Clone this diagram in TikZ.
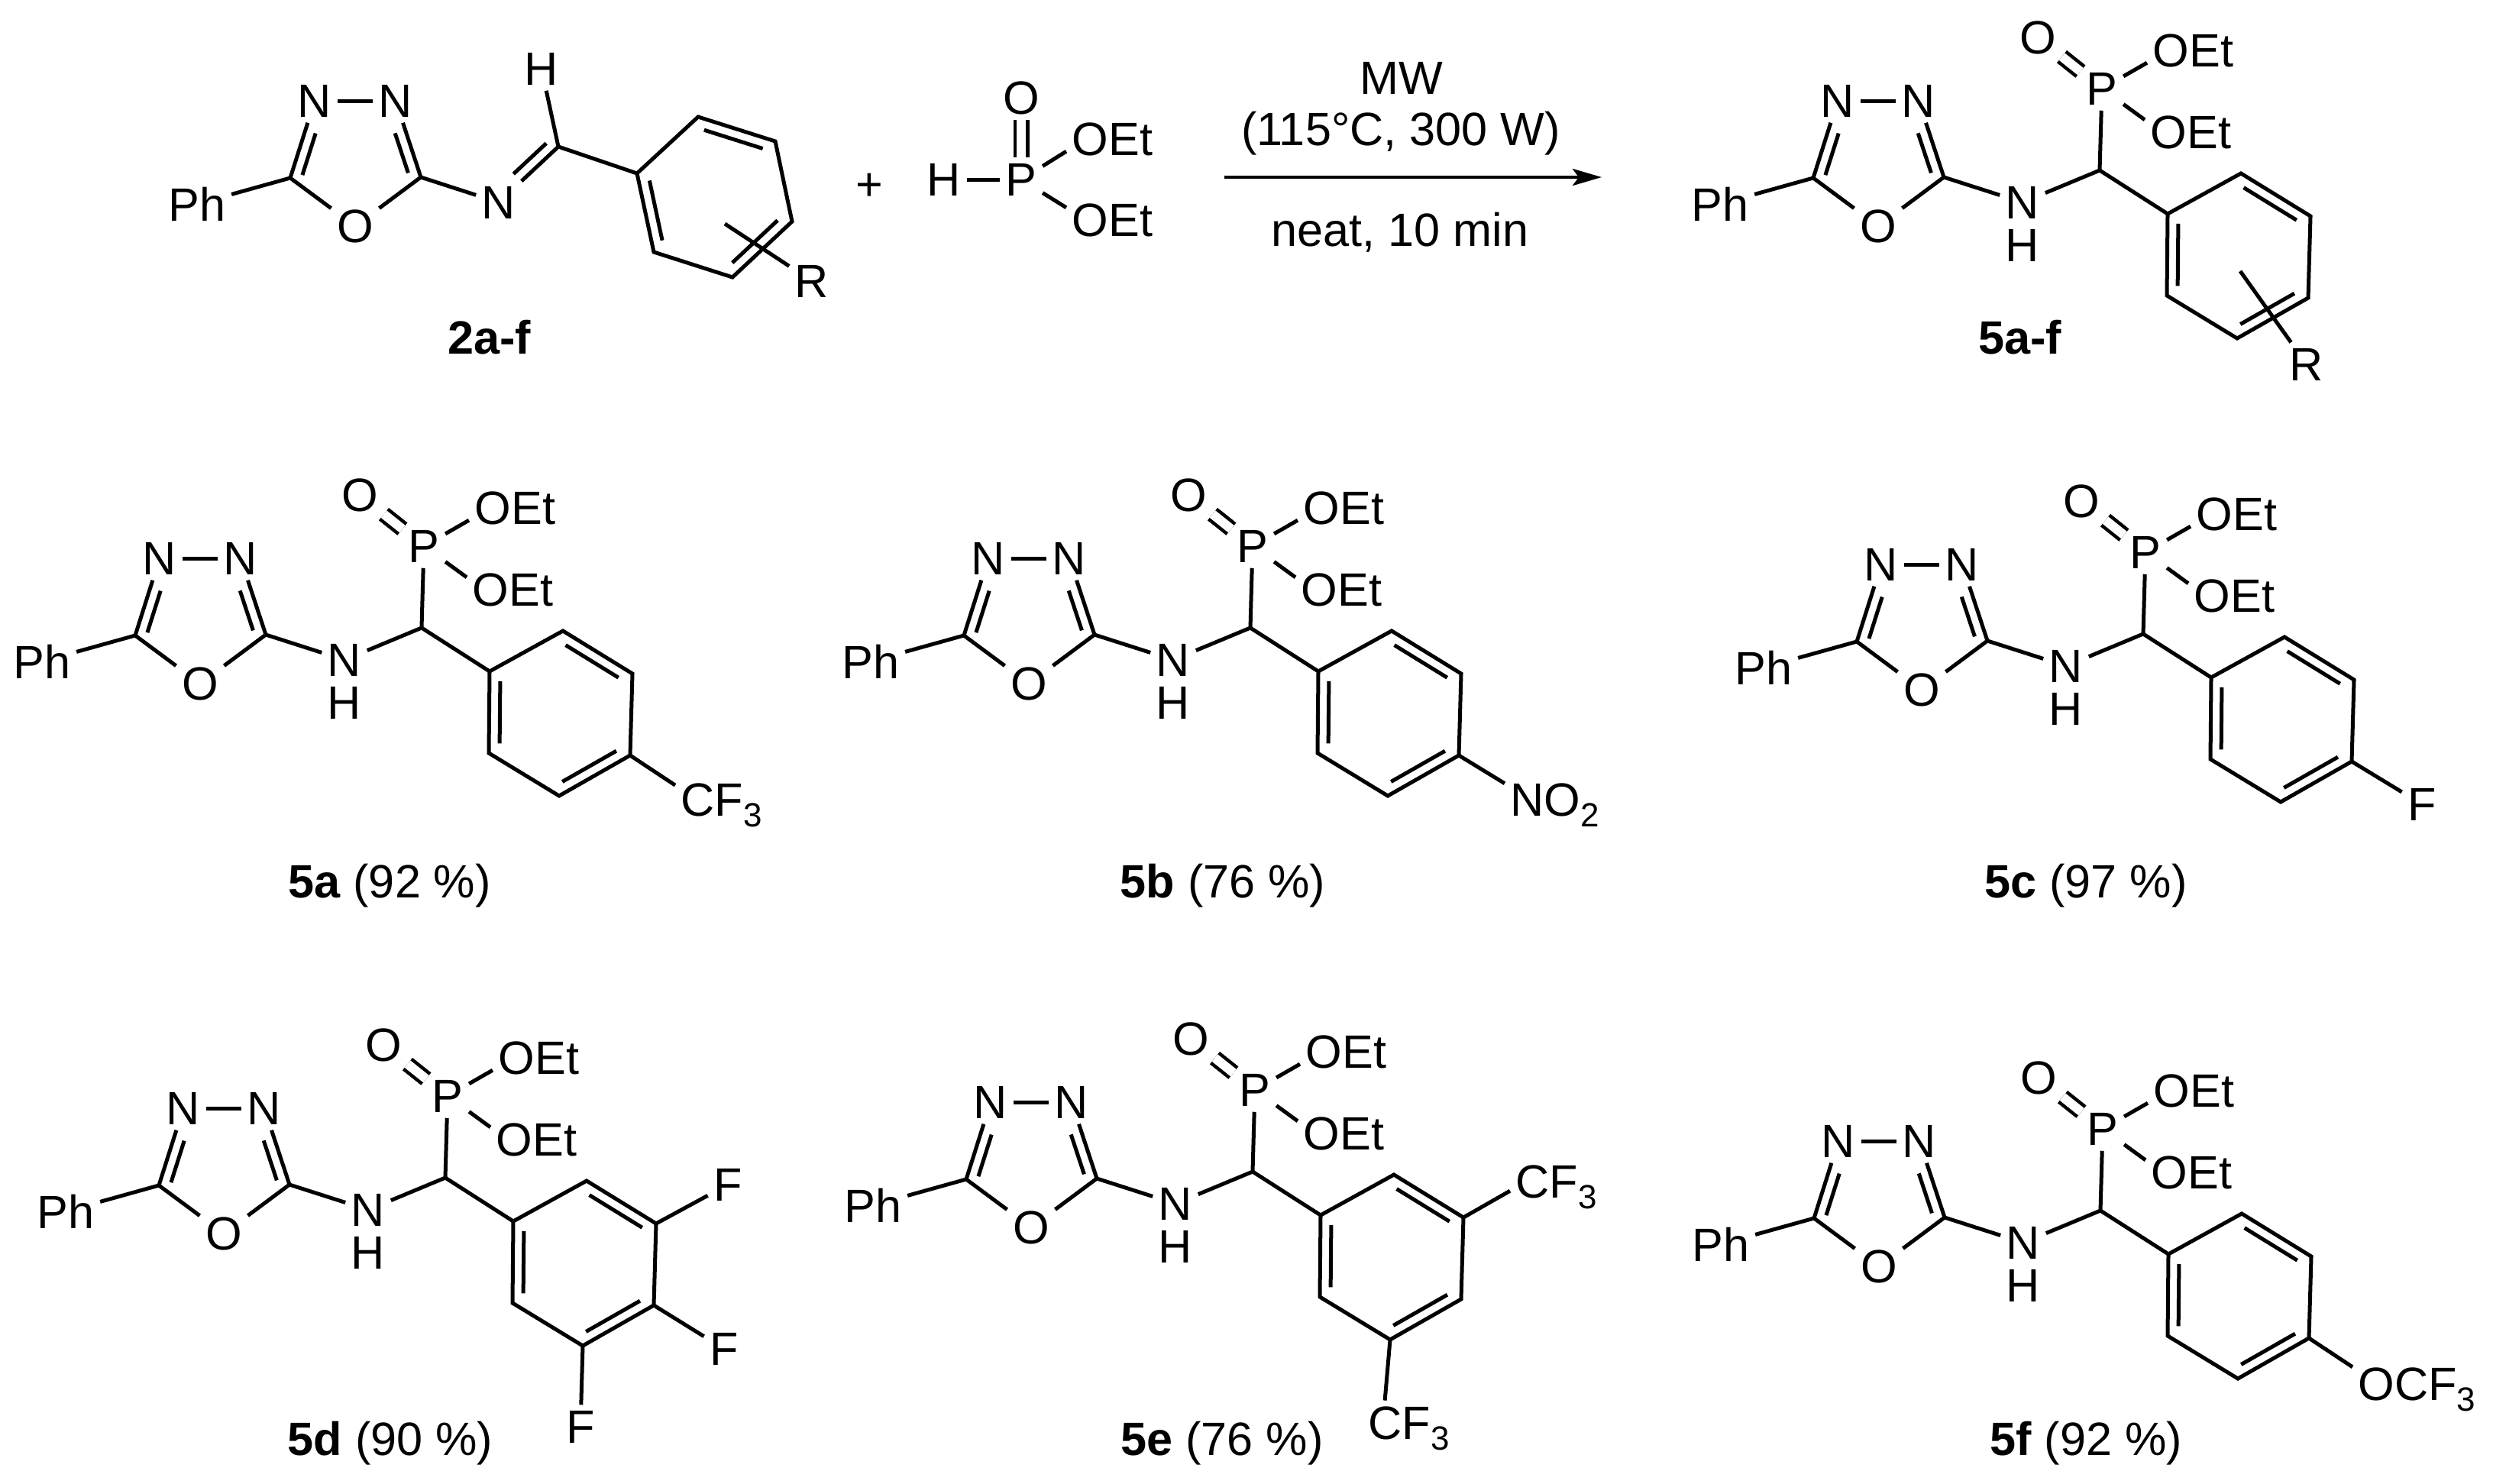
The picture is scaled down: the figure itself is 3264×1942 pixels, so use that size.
\documentclass[tikz,border=0pt]{standalone}
\usepackage{fontspec}
\setmainfont{Liberation Sans}
\usetikzlibrary{calc,arrows.meta}
\tikzset{
  bond/.style={line width=0.05cm},
  dblbond/.style={line width=0.045cm,double,double distance=0.12cm},
  atom/.style={inner sep=0.07cm},
  oet/.style={inner sep=0.07cm,anchor=west,xshift=-0.06cm},
  group/.style={inner sep=0.07cm,anchor=base west,xshift=-0.06cm},
  lab/.style={inner sep=0pt,anchor=base}
}
\newcommand{\subs}[1]{\raisebox{-4pt}{\fontsize{12.5}{14}\selectfont #1}}
\newcommand{\innerbond}[4]{\draw[bond] ($(#1)!#3!(#2)!0.14cm!-90:(#2)$) -- ($(#1)!#4!(#2)!0.14cm!-90:(#2)$);}
\newcommand{\oxadiazole}{
\node[atom] (ph) at (55,866) {Ph};
\coordinate (cp) at (177,832);
\coordinate (cv) at (348,831);
\node[atom] (na) at (209,731) {N};
\node[atom] (nb) at (315,731) {N};
\node[atom] (ox) at (262,895) {O};
\draw[bond] (ph) -- (cp) -- (na);
\draw[bond] (na) -- (nb);
\draw[bond] (nb) -- (cv) -- (ox);
\draw[bond] (ox) -- (cp);
\innerbond{cp}{na}{.08}{.62}
\innerbond{nb}{cv}{.38}{.9}
}
\newcommand{\phosphonate}{
\oxadiazole
\node[atom] (nh) at (451,864) {N};
\node[inner sep=0pt] (hn) at (451,920) {H};
\coordinate (ch) at (552,822);
\node[atom] (po) at (555,715) {P};
\node[atom] (oo) at (471,648) {O};
\node[oet] (oa) at (620,665) {OEt};
\node[oet] (ob) at (617,772) {OEt};
\coordinate (ci) at (641,879);
\coordinate (ct) at (737,826);
\coordinate (cm) at (828,882);
\coordinate (pa) at (825,989);
\coordinate (mb) at (732,1042);
\coordinate (ob2) at (640,986);
\draw[bond] (cv) -- (nh);
\draw[bond] (nh) -- (ch) -- (po);
\draw[dblbond] (po) -- (oo);
\draw[bond] (po) -- (oa.195);
\draw[bond] (po) -- (ob.165);
\draw[bond] (ch) -- (ci);
\draw[bond] (ci) -- (ct) -- (cm) -- (pa) -- (mb) -- (ob2) -- cycle;
\innerbond{ob2}{ci}{.12}{.88}
\innerbond{ct}{cm}{.12}{.88}
\innerbond{pa}{mb}{.12}{.88}
}
\begin{document}
\begin{tikzpicture}[x=0.01cm,y=-0.01cm,every node/.style={font=\fontsize{17.4}{20}\selectfont}]
\useasboundingbox (0,0) rectangle (3264,1942);
\begin{scope}[shift={(203,-599)},name prefix=im-]
\oxadiazole
\end{scope}
\node[atom] (imn) at (653,265) {N};
\node[atom] (imh) at (709,90) {H};
\coordinate (imc) at (731,192);
\coordinate (imi) at (834,227);
\coordinate (imt) at (914,153);
\coordinate (imm) at (1015,185);
\coordinate (imr) at (1037,290);
\coordinate (imb) at (959,363);
\coordinate (iml) at (856,330);
\coordinate (rsa) at (949,293);
\node[atom] (ra) at (1063,368) {R};
\draw[bond] (im-cv) -- (imn);
\draw[bond] (imn) -- (imc) -- (imh);
\draw[bond] (imc) -- (imi);
\draw[bond] (imi) -- (imt) -- (imm) -- (imr) -- (imb) -- (iml) -- cycle;
\innerbond{imc}{imn}{.08}{.63}
\innerbond{iml}{imi}{.12}{.88}
\innerbond{imt}{imm}{.12}{.88}
\innerbond{imr}{imb}{.12}{.88}
\draw[bond] (rsa) -- (ra);
\node[lab] (laba) at (641,463) {\textbf{2a-f}};
\node[atom] (plus) at (1138,245) {+};
\node[atom] (hp) at (1236,235) {H};
\node[atom] (pp) at (1337,235) {P};
\node[atom] (op) at (1337,128) {O};
\node[oet] (oc) at (1402,182) {OEt};
\node[oet] (od) at (1402,288) {OEt};
\draw[bond] (hp) -- (pp);
\draw[dblbond] (pp) -- (op);
\draw[bond] (pp) -- (oc.195);
\draw[bond] (pp) -- (od.165);
\coordinate (arra) at (1603,232);
\coordinate (arrb) at (2097,232);
\draw[-{Stealth[length=0.38cm,width=0.22cm,inset=0.08cm]},line width=0.045cm] (arra) -- (arrb);
\node[lab] (mw) at (1835,123) {MW};
\node[lab] (cond) at (1834,190) {(115°C, 300 W)};
\node[lab] (neat) at (1833,322) {neat, 10 min};
\begin{scope}[shift={(2197,-599)},name prefix=p-]
\phosphonate
\end{scope}
\coordinate (rsb) at (2933,355);
\node[atom] (rb) at (3020,477) {R};
\draw[bond] (rsb) -- (rb);
\node[lab] (labb) at (2645,463) {\textbf{5a-f}};
\begin{scope}[name prefix=a-]
\phosphonate
\end{scope}
\node[group] (cfa) at (890,1068) {CF\subs{3}};
\draw[bond] (a-pa) -- (cfa.157);
\node[lab] (labc) at (510,1175) {\textbf{5a} (92 \%)};
\begin{scope}[shift={(1085,0)},name prefix=b-]
\phosphonate
\end{scope}
\node[group] (no) at (1976,1068) {NO\subs{2}};
\draw[bond] (b-pa) -- (no.157);
\node[lab] (labd) at (1601,1175) {\textbf{5b} (76 \%)};
\begin{scope}[shift={(2254,8)},name prefix=c-]
\phosphonate
\end{scope}
\node[atom] (fa) at (3171,1053) {F};
\draw[bond] (c-pa) -- (fa);
\node[lab] (labe) at (2731,1175) {\textbf{5c} (97 \%)};
\begin{scope}[shift={(31,720)},name prefix=d-]
\phosphonate
\end{scope}
\node[atom] (fb) at (953,1551) {F};
\node[atom] (fc) at (948,1766) {F};
\node[atom] (fd) at (760,1868) {F};
\draw[bond] (d-cm) -- (fb);
\draw[bond] (d-pa) -- (fc);
\draw[bond] (d-mb) -- (fd);
\node[lab] (labf) at (511,1905) {\textbf{5d} (90 \%)};
\begin{scope}[shift={(1088,712)},name prefix=e-]
\phosphonate
\end{scope}
\node[group] (cfb) at (1983,1568) {CF\subs{3}};
\node[group] (cfc) at (1790,1884) {CF\subs{3}};
\draw[bond] (e-cm) -- (cfb.185);
\draw[bond] (e-mb) -- (cfc.131);
\node[lab] (labg) at (1600,1905) {\textbf{5e} (76 \%)};
\begin{scope}[shift={(2198,763)},name prefix=f-]
\phosphonate
\end{scope}
\node[group] (ocf) at (3086,1833) {OCF\subs{3}};
\draw[bond] (f-pa) -- (ocf.161);
\node[lab] (labh) at (2731,1905) {\textbf{5f} (92 \%)};
\end{tikzpicture}
\end{document}
